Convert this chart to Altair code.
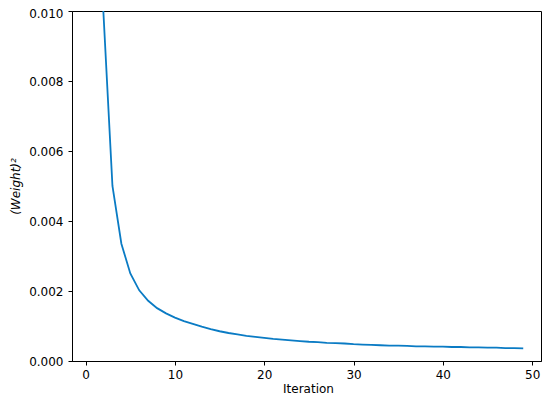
import altair as alt
import pandas as pd

iterations = list(range(1, 50))
weight_sq = [
    0.0150, 0.0099, 0.0050, 0.00335, 0.00250, 0.00202, 0.00172, 0.00151, 0.00136, 0.00124,
    0.00114, 0.00106, 0.00098, 0.00091, 0.00085, 0.00080, 0.00076, 0.00072, 0.00069, 0.00066,
    0.00063, 0.00061, 0.00059, 0.00057, 0.00055, 0.00054, 0.00052, 0.00051, 0.00050, 0.00048,
    0.00047, 0.00046, 0.00045, 0.00044, 0.00044, 0.00043, 0.00042, 0.00042, 0.00041, 0.00041,
    0.00040, 0.00040, 0.00039, 0.00039, 0.00038, 0.00038, 0.00037, 0.00037, 0.00036,
]
x_ticks = [0, 10, 20, 30, 40, 50]
y_ticks = [0.0, 0.002, 0.004, 0.006, 0.008, 0.010]

df = pd.DataFrame({"iteration": iterations, "weight_sq": weight_sq})

chart = alt.Chart(df).mark_line(clip=True, color="#0a7bc4", strokeWidth=1.8).encode(
    x=alt.X(
        "iteration:Q",
        scale=alt.Scale(domain=[-1.53, 50.99], nice=False, zero=False),
        axis=alt.Axis(
            values=x_ticks, format="d", title="Iteration", grid=False,
            titleX=236, titleY=31, titleBaseline="alphabetic", titleAlign="center",
        ),
    ),
    y=alt.Y(
        "weight_sq:Q",
        scale=alt.Scale(domain=[0, 0.01], nice=False),
        axis=alt.Axis(
            values=y_ticks, format=".3f", title="(Weight)²", grid=False,
            titleFontStyle="italic", titleAngle=270, titleX=-53, titleY=175,
            titleBaseline="alphabetic", titleAlign="center", labelPadding=5,
            labelOffset={"condition": {"test": "datum.value >= 0.0099", "value": 2}, "value": 0},
        ),
    ),
).properties(
    width=469, height=350,
    padding={"left": 64, "top": 3, "right": 1, "bottom": 34},
    autosize="none",
).configure_view(
    stroke="black", strokeWidth=1
).configure_axis(
    domainColor="black", tickColor="black", labelColor="black", titleColor="black",
    labelFont="DejaVu Sans", titleFont="DejaVu Sans", labelFontSize=12, titleFontSize=12,
    titleFontWeight="normal", tickSize=4, labelPadding=4, domainWidth=1, tickWidth=1,
)

chart.save("out.html", embed_options={"renderer": "svg", "actions": False})
